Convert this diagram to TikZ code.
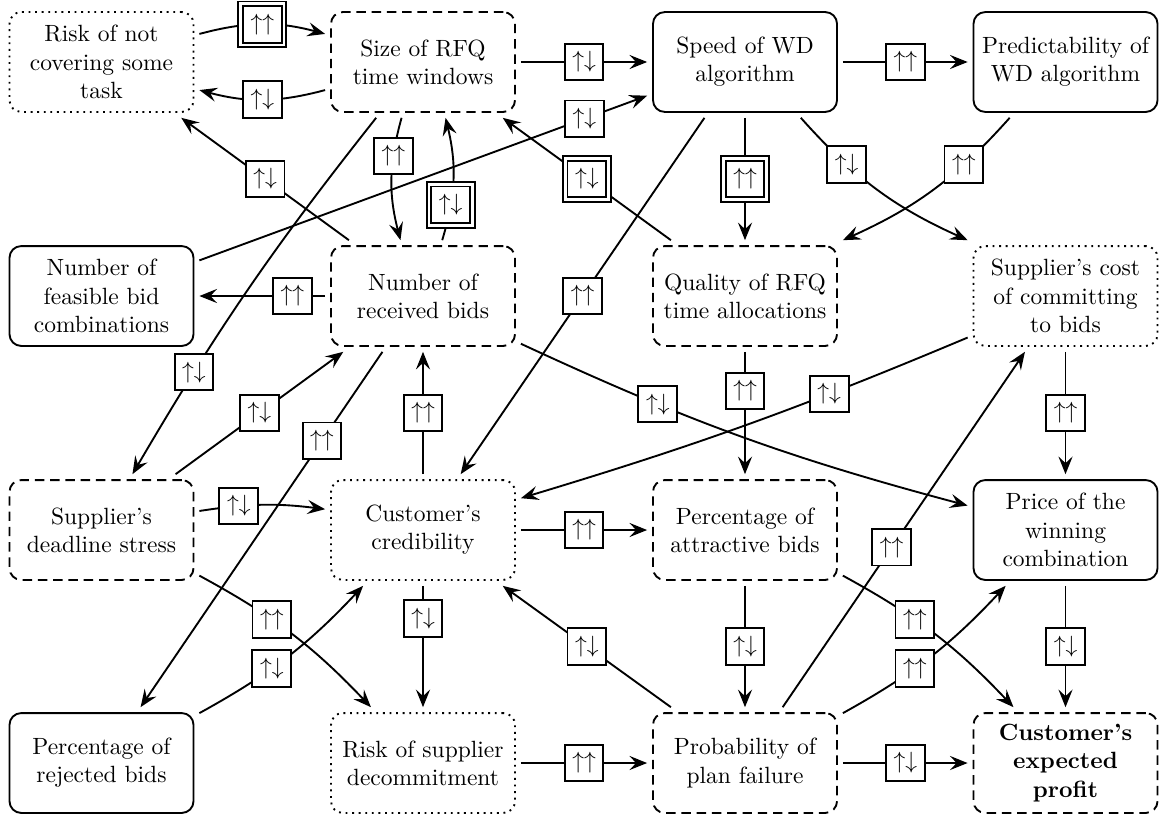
\documentclass[tikz,border=0pt]{standalone}
\usetikzlibrary{arrows.meta}
\newcommand\sgnpp{$\uparrow\uparrow$}
\newcommand\sgnpm{$\uparrow\downarrow$}
\begin{document}
\begin{tikzpicture}[x=0.4255pt, y=-0.4255pt,
  var/.style={rectangle, rounded corners=5pt, thick, minimum width=78.3pt,
    minimum height=42.5pt, inner sep=2pt, outer sep=2.5pt, align=center},
  solidvar/.style={var, draw},
  dashvar/.style={var, draw, dash pattern=on 4pt off 2.5pt},
  dotvar/.style={var, draw, dotted},
  sign/.style={draw, thick, fill=white, minimum width=16.5pt,
    minimum height=15.5pt, inner sep=0pt},
  strong/.style={sign, double, double distance=1.2pt,
    minimum width=18.5pt, minimum height=17.5pt},
  link/.style={thick, -{Stealth[length=7.5pt,width=6pt,inset=2.8pt]}}]
\useasboundingbox (0,0) rectangle (1160,817);

% variables, four rows of four
\node[dotvar]   (risk)   at (101.5,62)  {Risk of not\\covering some\\task};
\node[dashvar]  (size)   at (423,62)    {Size of RFQ\\time windows};
\node[solidvar] (speed)  at (745,62)    {Speed of WD\\algorithm};
\node[solidvar] (pred)   at (1065.5,62) {Predictability of\\WD algorithm};

\node[solidvar] (feas)   at (101.5,296) {Number of\\feasible bid\\combinations};
\node[dashvar]  (recv)   at (423,296)   {Number of\\received bids};
\node[dashvar]  (qual)   at (745,296)   {Quality of RFQ\\time allocations};
\node[dotvar]   (cost)   at (1065.5,296){Supplier's cost\\of committing\\to bids};

\node[dashvar]  (stress) at (101.5,530) {Supplier's\\deadline stress};
\node[dotvar]   (cred)   at (423,530)   {Customer's\\credibility};
\node[dashvar]  (attr)   at (745,530)   {Percentage of\\attractive bids};
\node[solidvar] (price)  at (1065.5,530){Price of the\\winning\\combination};

\node[solidvar] (rej)    at (101.5,763) {Percentage of\\rejected bids};
\node[dotvar]   (decom)  at (423,763)   {Risk of supplier\\decommitment};
\node[dashvar]  (fail)   at (745,763)   {Probability of\\plan failure};
\node[dashvar]  (profit) at (1065.5,763){\bfseries Customer's\\\bfseries expected\\\bfseries profit};

% influences
\draw[link] (risk.16) to[bend left=15] node[strong]{\sgnpp} (size.164);
\draw[link] (size.196) to[bend left=15] node[sign]{\sgnpm} (risk.-16);
\draw[link] (size.east) -- node[sign]{\sgnpm} (speed.west);
\draw[link] (speed.east) -- node[sign]{\sgnpp} (pred.west);
\draw[link] (feas.20) -- node[sign, pos=0.86]{\sgnpm} (speed.199.5);
\draw[link] (size.249) to[bend right=15] node[sign, pos=0.3]{\sgnpp} (recv.112);
\draw[link] (recv.71) to[bend right=15] node[strong, pos=0.28]{\sgnpm} (size.292.5);
\draw[link] (qual.143.5) -- node[strong]{\sgnpm} (size.-35);
\draw[link] (speed.south) -- node[strong]{\sgnpp} (qual.north);
\draw[link] (speed.-45) to[bend right=12] node[sign, pos=0.3]{\sgnpm} (cost.north west);
\draw[link] (pred.-135) to[bend left=12] node[sign, pos=0.3]{\sgnpp} (qual.north east);
\draw[link] (recv.west) -- node[sign, pos=0.26]{\sgnpp} (feas.east);
\draw[link] (recv.143) -- node[sign]{\sgnpm} (risk.-35);
\draw[link] (size.230) to[bend right=4] node[sign, pos=0.74]{\sgnpm} (stress.61);
\draw[link] (stress.37) -- node[sign]{\sgnpm} (recv.215.5);
\draw[link] (recv.234.5) -- node[sign, pos=0.25]{\sgnpp} (rej.55.5);
\draw[link] (speed.234.5) -- node[sign]{\sgnpp} (cred.56);
\draw[link] (recv.-26) to[bend right=5] node[sign, pos=0.3]{\sgnpm} (price.166);
\draw[link] (qual.south) -- node[sign, pos=0.32]{\sgnpp} (attr.north);
\draw[link] (cost.203) to[bend left=3] node[sign, pos=0.3]{\sgnpm} (cred.18);
\draw[link] (stress.11) to[bend left=8] node[sign, pos=0.3]{\sgnpm} (cred.168);
\draw[link] (cred.north) -- node[sign]{\sgnpp} (recv.south);
\draw[link] (cred.east) -- node[sign]{\sgnpp} (attr.west);
\draw[link] (cost.south) -- node[sign]{\sgnpp} (price.north);
\draw[link] (stress.-25.5) to[bend left=9] node[sign, pos=0.38]{\sgnpp} (decom.133);
\draw[link] (rej.27) to[bend right=9] node[sign, pos=0.4]{\sgnpm} (cred.223.5);
\draw[link] (cred.south) -- node[sign, pos=0.27]{\sgnpm} (decom.north);
\draw[link] (fail.143.5) -- node[sign]{\sgnpm} (cred.-35.5);
\draw[link] (attr.south) -- node[sign]{\sgnpm} (fail.north);
\draw[link] (decom.east) -- node[sign]{\sgnpp} (fail.west);
\draw[link] (fail.56) -- node[sign, pos=0.45]{\sgnpp} (cost.234);
\draw[link] (attr.-25.5) to[bend left=9] node[sign, pos=0.38]{\sgnpp} (profit.133);
\draw[link] (fail.27) to[bend right=9] node[sign, pos=0.4]{\sgnpp} (price.223.5);
\draw[link] (fail.east) -- node[sign]{\sgnpm} (profit.west);
\draw[link] (price.south) -- node[sign]{\sgnpm} (profit.north);
\end{tikzpicture}
\end{document}
